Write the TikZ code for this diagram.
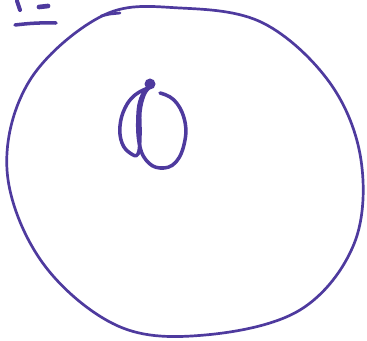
\documentclass[tikz,border=0pt]{standalone}
\usepackage{tikz}
\usetikzlibrary{positioning}
\definecolor{inkblue}{RGB}{78,58,158}
\tikzset{ink/.style={draw=inkblue,line width=2.3pt,line cap=round,line join=round},
    thickink/.style={ink,line width=3pt}}
\begin{document}
\begin{tikzpicture}[x=0.03cm,y=-0.03cm]
    \useasboundingbox (0,0) rectangle (367,341);
    % marks at the corner
    \draw[thickink,line width=3.4pt] (17,1)--(20,10);
    \draw[thickink,line width=4pt] (39,7)--(48,6);
    \draw[thickink] (15,25) to[bend left=4] (56,23);
    %% the big circle
    \draw[ink] plot[smooth cycle,tension=0.6] coordinates {(104,15) (180,8) (263,23) (330,83)
        (361,160) (354,244) (300,310) (205,335) (118,326) (42,262) (7,170) (30,80)};
    \draw[ink] (101,16)--(110,14)--(120,13);
    %% the dot and the two loops
    \fill[inkblue] (150,84) circle (5.5);
    \draw[thickink] plot[smooth,tension=0.7] coordinates {(148,88) (135,95) (125,108) (120,126)
        (122,143) (130,153) (138,154) (140,135) (140,112) (144,95) (149,88)};
    \draw[thickink] plot[smooth,tension=0.7] coordinates {(160,93) (174,100) (184,118) (185,140)
        (176,162) (160,168) (146,160) (139,142) (138,115) (141,98) (147,89)};
\end{tikzpicture}
\end{document}
